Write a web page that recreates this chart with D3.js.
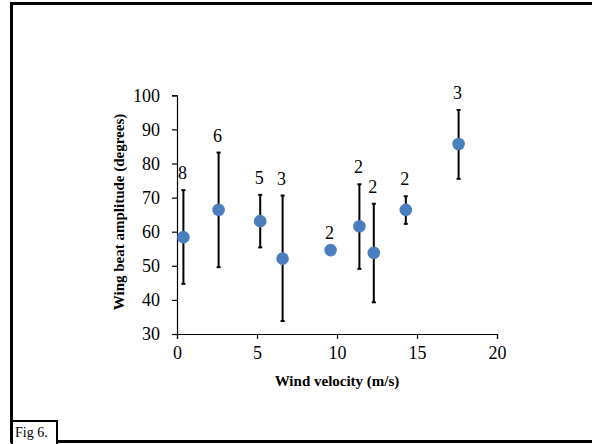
<!DOCTYPE html>
<html>
<head>
<meta charset="utf-8">
<script src="https://cdn.jsdelivr.net/npm/d3@7"></script>
<style>
  body { margin: 0; background: #fff; }
  svg { display: block; }
</style>
</head>
<body>
<script>
"use strict";

// Data
const windVelocity = [0.4, 2.6, 5.2, 6.6, 9.6, 11.4, 12.3, 14.3, 17.6];
const amplitude    = [58.4, 66.4, 63.1, 52.1, 54.6, 61.6, 53.8, 66.4, 85.7];
const errTop       = [72.2, 83.2, 70.8, 70.6, 54.6, 73.9, 68.2, 70.4, 95.7];
const errBottom    = [44.7, 49.6, 55.4, 33.8, 54.6, 49.1, 39.3, 62.3, 75.5];
const sampleSize   = ["8", "6", "5", "3", "2", "2", "2", "2", "3"];
const xTicks = [0, 5, 10, 15, 20];
const yTicks = [30, 40, 50, 60, 70, 80, 90, 100];

const SERIF = '"Liberation Serif", serif';
const W = 592, H = 444;
const svg = d3.select("body").append("svg")
    .attr("width", W)
    .attr("height", H)
    .style("font-family", SERIF);

// outer frame (runs off the right edge)
svg.append("rect")
    .attr("x", 11.5).attr("y", 3.5)
    .attr("width", W + 10).attr("height", 438)
    .attr("fill", "none").attr("stroke", "#000").attr("stroke-width", 3);

// Fig 6. caption box
svg.append("rect")
    .attr("x", 12).attr("y", 421)
    .attr("width", 45).attr("height", 30)
    .attr("fill", "#fff").attr("stroke", "#000").attr("stroke-width", 2);
svg.append("text")
    .attr("x", 15).attr("y", 437)
    .style("font-family", SERIF)
    .style("font-size", "14px")
    .text("Fig 6.");

const x = d3.scaleLinear().domain([0, 20]).range([177, 497]);
const y = d3.scaleLinear().domain([30, 100]).range([334, 95.3]);

// Axes
const xAxis = svg.append("g")
    .attr("transform", `translate(0,${y(30)})`)
    .call(d3.axisBottom(x).tickValues(xTicks).tickSize(5).tickPadding(7));
xAxis.attr("font-family", null).attr("font-size", null);
xAxis.select(".domain").attr("stroke", "#000").attr("stroke-width", 1.2);
xAxis.selectAll(".tick line").attr("stroke", "#000").attr("stroke-width", 1.2);
xAxis.selectAll(".tick text")
    .style("font-family", SERIF)
    .style("font-size", "18px").attr("fill", "#000");

const yAxis = svg.append("g")
    .attr("transform", `translate(${x(0)},0)`)
    .call(d3.axisLeft(y).tickValues(yTicks).tickSize(5).tickPadding(12));
yAxis.attr("font-family", null).attr("font-size", null);
yAxis.select(".domain").attr("stroke", "#000").attr("stroke-width", 1.2);
yAxis.selectAll(".tick line").attr("stroke", "#000").attr("stroke-width", 1.2);
yAxis.selectAll(".tick text")
    .style("font-family", SERIF)
    .style("font-size", "18px").attr("fill", "#000");

// Axis titles
svg.append("text")
    .attr("x", 337).attr("y", 386)
    .attr("text-anchor", "middle")
    .style("font-family", SERIF)
    .style("font-size", "15px").style("font-weight", "bold")
    .text("Wind velocity (m/s)");
svg.append("text")
    .attr("transform", `translate(124,212) rotate(-90)`)
    .attr("text-anchor", "middle")
    .style("font-family", SERIF)
    .style("font-size", "15px").style("font-weight", "bold")
    .text("Wing beat amplitude (degrees)");

const data = windVelocity.map((v, i) => ({
    x: v, y: amplitude[i], hi: errTop[i], lo: errBottom[i], n: sampleSize[i]
}));

// Error bars
const bars = svg.append("g").selectAll("g")
    .data(data.filter(d => d.hi - d.lo > 0.5))
    .join("g")
    .attr("stroke", "#000").attr("stroke-width", 2);
bars.append("line")
    .attr("x1", d => x(d.x)).attr("x2", d => x(d.x))
    .attr("y1", d => y(d.hi)).attr("y2", d => y(d.lo));
bars.append("line")
    .attr("x1", d => x(d.x) - 2).attr("x2", d => x(d.x) + 2)
    .attr("y1", d => y(d.hi)).attr("y2", d => y(d.hi));
bars.append("line")
    .attr("x1", d => x(d.x) - 2).attr("x2", d => x(d.x) + 2)
    .attr("y1", d => y(d.lo)).attr("y2", d => y(d.lo));

// Points
svg.append("g").selectAll("circle")
    .data(data)
    .join("circle")
    .attr("cx", d => x(d.x))
    .attr("cy", d => y(d.y))
    .attr("r", 6.3)
    .attr("fill", "#4a7ebf");

// Sample size labels
svg.append("g").selectAll("text.n")
    .data(data)
    .join("text")
    .attr("class", "n")
    .attr("x", d => x(d.x) - 1)
    .attr("y", d => y(d.hi) - 11)
    .attr("text-anchor", "middle")
    .style("font-family", SERIF)
    .style("font-size", "18px")
    .text(d => d.n);
</script>
</body>
</html>
